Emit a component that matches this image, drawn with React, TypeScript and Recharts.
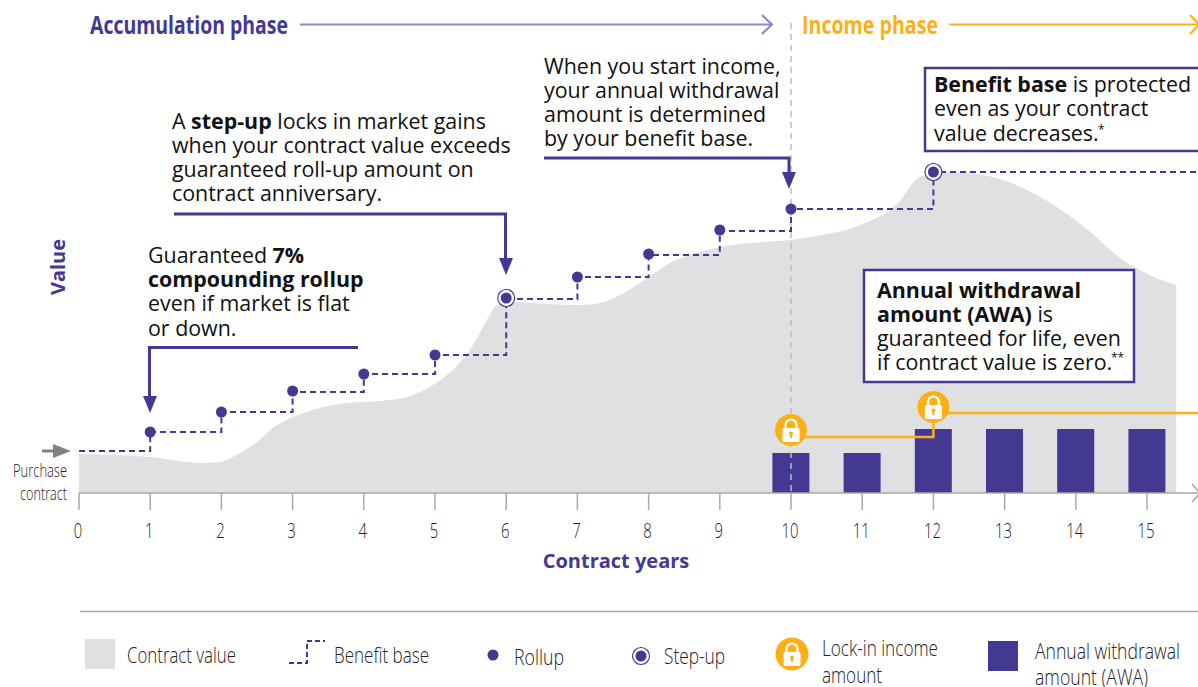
import React from "react";
import {
  ComposedChart,
  Area,
  Bar,
  Line,
  XAxis,
  YAxis,
  ReferenceLine,
} from "recharts";

const PURPLE = "#433993";
const GOLD = "#FDB016";
const GREY = "#DFE0E2";
const AXIS = "#A7A9AC";
const INK = "#111111";
const SANS = "'Open Sans', sans-serif";

const X_END = 15.716;
const yearTicks = [0, 1, 2, 3, 4, 5, 6, 7, 8, 9, 10, 11, 12, 13, 14, 15];

const contractYears = [
  0, 1, 1.7, 1.98, 2.26, 2.5, 2.72, 3.01, 3.38, 3.76, 4.23, 4.61, 4.97, 5.25,
  5.49, 5.73, 5.87, 6.1, 6.57, 7.04, 7.32, 7.6, 7.98, 8.3, 8.58, 9, 9.61, 10,
  10.27, 10.97, 11.49, 11.81, 12.16, 12.7, 13.4, 14.17, 14.62, 15.04, 15.41,
];
const contractValues = [
  39, 36, 30, 31, 40, 51, 65, 76, 85, 90, 92, 96, 108, 123,
  143, 173, 188, 191, 189, 188, 190, 198, 215, 230, 238, 246, 251, 253,
  256, 268, 289, 316, 321, 318, 300, 263, 235, 218, 208,
];

const baseYears = [0, 1, 2, 3, 4, 5, 6, 7, 8, 9, 10, 12, X_END];
const baseValues = [42, 61, 81, 101, 119, 138, 194, 216, 238, 262, 284, 321, 321];

const rollupYears = [1, 2, 3, 4, 5, 7, 8, 9, 10];
const rollupValues = [61, 81, 102, 119, 138, 216, 239, 263, 284];

const stepUpYears = [6, 12];
const stepUpValues = [195, 321];

const awaYears = [10, 11, 12, 13, 14, 15];
const awaValues = [40, 40, 64, 64, 64, 64];

const lockLineYears = [10, 12, X_END];
const lockLineValues = [56, 80, 80];

const lockYears = [10, 12];
const lockValues = [63, 86];

const legendLabels = ["Contract value", "Benefit base", "Rollup", "Step-up"];

const toRows = (years: number[], values: number[]) =>
  years.map((year, i) => ({ year, value: values[i] }));

// no condensed face is installed, so squeeze Open Sans to the measured width
function Narrow(props: {
  x: number;
  y: number;
  w: number;
  size?: number;
  bold?: boolean;
  fill?: string;
  anchor?: "start" | "middle" | "end";
  children: string;
}) {
  const { x, y, w, size = 22, bold, fill = "#222", anchor = "start", children } = props;
  return (
    <text
      x={x}
      y={y}
      fontFamily={SANS}
      fontSize={size}
      fontWeight={bold ? 700 : 300}
      fill={fill}
      textAnchor={anchor}
      textLength={w}
      lengthAdjust="spacingAndGlyphs"
    >
      {children}
    </text>
  );
}

function LockIcon({ cx, cy, r = 16 }: { cx: number; cy: number; r?: number }) {
  return (
    <g>
      <circle cx={cx} cy={cy} r={r} fill={GOLD} />
      <path
        d={`M${cx - 5.5} ${cy - 1} v-4 a5.5 5.5 0 0 1 11 0 v4`}
        fill="none"
        stroke="#fff"
        strokeWidth={2.2}
      />
      <rect x={cx - 8.5} y={cy - 2} width={17} height={14} rx={1.5} fill="#fff" />
      <circle cx={cx} cy={cy + 3.5} r={2} fill={GOLD} />
      <rect x={cx - 1} y={cy + 3.5} width={2} height={4.5} fill={GOLD} />
    </g>
  );
}

function StepUpIcon({ cx, cy }: { cx: number; cy: number }) {
  return (
    <g>
      <circle cx={cx} cy={cy} r={8.5} fill="#fff" stroke={PURPLE} strokeWidth={1.2} />
      <circle cx={cx} cy={cy} r={5.5} fill={PURPLE} />
    </g>
  );
}

const rollupDot = (p: any) => <circle key={p.index} cx={p.cx} cy={p.cy} r={5.5} fill={PURPLE} />;
const stepUpDot = (p: any) => <StepUpIcon key={p.index} cx={p.cx} cy={p.cy} />;
const lockDot = (p: any) => <LockIcon key={p.index} cx={p.cx} cy={p.cy} />;

const YearTick = (p: any) => (
  <Narrow x={p.x - 1} y={p.y + 26} w={p.payload.value > 9 ? 17 : 8.5} size={21} anchor="middle">
    {String(p.payload.value)}
  </Narrow>
);

function Copy(props: { x: number; y: number; lead?: number; lines: (string | [string, string, string?])[] }) {
  const lead = props.lead || 24;
  return (
    <text x={props.x} y={props.y} fontFamily={SANS} fontSize={21.4} fill={INK}>
      {props.lines.map((line, i) => (
        <tspan key={i} x={props.x} y={props.y + i * lead}>
          {typeof line === "string" ? (
            line
          ) : (
            <>
              {line[0]}
              <tspan fontWeight={700}>{line[1]}</tspan>
              {line[2]}
            </>
          )}
        </tspan>
      ))}
    </text>
  );
}

const Overlay = () => (
  <svg
    width={1198}
    height={687}
    style={{ position: "absolute", left: 0, top: 0, pointerEvents: "none" }}
  >
    {/* phase headers */}
    <Narrow x={90} y={34} w={198} size={25} bold fill={PURPLE}>Accumulation phase</Narrow>
    <path d="M300 24.5H772M762 15l10 9.5-10 9.5" fill="none" stroke="#8F86C4" strokeWidth={2.2} />
    <Narrow x={802} y={34} w={136} size={25} bold fill={GOLD}>Income phase</Narrow>
    <path d="M949 24.5H1198M1190 15l9 9.5-9 9.5" fill="none" stroke={GOLD} strokeWidth={2.2} />

    {/* callouts */}
    <Copy x={172} y={128.5} lines={[["A ", "step-up", " locks in market gains"], "when your contract value exceeds", "guaranteed roll-up amount on", "contract anniversary."]} />
    <path d="M174 214H505.500V262" fill="none" stroke={PURPLE} strokeWidth={3} />
    <path d="M499 258h14l-7 17z" fill={PURPLE} />

    <Copy x={544} y={73.5} lines={["When you start income,", "your annual withdrawal", "amount is determined", "by your benefit base."]} />
    <path d="M544 158H789V174" fill="none" stroke={PURPLE} strokeWidth={3} />
    <path d="M782 172h14l-7 17z" fill={PURPLE} />

    <Copy x={148} y={262.500} lead={24.4} lines={[["Guaranteed ", "7%"], ["", "compounding rollup"], "even if market is flat", "or down."]} />
    <path d="M358 347.500H149.500V398" fill="none" stroke={PURPLE} strokeWidth={3} />
    <path d="M143 396h14l-7 17z" fill={PURPLE} />

    <rect x={925} y={68} width={300} height={83} fill="#fff" stroke={PURPLE} strokeWidth={2.5} />
    <Copy x={934} y={92} lead={24.4} lines={[["", "Benefit base", " is protected"], "even as your contract", "value decreases."]} />
    <text x={1098} y={134} fontFamily={SANS} fontSize={12} fill={INK}>*</text>

    <rect x={864} y={270} width={270} height={112} fill="#fff" stroke={PURPLE} strokeWidth={2.5} />
    <Copy x={877} y={298} lines={[["", "Annual withdrawal"], ["", "amount (AWA)", " is"], "guaranteed for life, even", "if contract value is zero."]} />
    <text x={1111} y={362} fontFamily={SANS} fontSize={12} fill={INK}>**</text>

    {/* axis furniture */}
    <path d="M42 451H58" stroke="#808285" strokeWidth={3} />
    <path d="M53 444l18 7-18 7z" fill="#808285" />
    <Narrow x={67} y={477} w={54} size={18} anchor="end">Purchase</Narrow>
    <Narrow x={67} y={500} w={47} size={18} anchor="end">contract</Narrow>
    <path d="M1192 484l8 9-8 9" fill="none" stroke={AXIS} strokeWidth={1.5} />
    <text
      transform="translate(65 267) rotate(-90)"
      textAnchor="middle"
      fontFamily={SANS}
      fontSize={20}
      fontWeight={700}
      fill={PURPLE}
    >
      Value
    </text>
    <text x={616} y={568} textAnchor="middle" fontFamily={SANS} fontSize={20} fontWeight={700} fill={PURPLE}>
      Contract years
    </text>

    {/* legend */}
    <path d="M80 611.500H1198" stroke={AXIS} strokeWidth={1.5} />
    <rect x={85} y={639} width={30} height={30} fill={GREY} />
    <Narrow x={127} y={663} w={109}>{legendLabels[0]}</Narrow>
    <path d="M289 663H307V641H325" fill="none" stroke={PURPLE} strokeWidth={2} strokeDasharray="5 3" />
    <Narrow x={334} y={663} w={95}>{legendLabels[1]}</Narrow>
    <circle cx={493} cy={655} r={5.5} fill={PURPLE} />
    <Narrow x={514} y={665} w={50}>{legendLabels[2]}</Narrow>
    <StepUpIcon cx={641} cy={656} />
    <Narrow x={664} y={664} w={61}>{legendLabels[3]}</Narrow>
    <LockIcon cx={792} cy={654} r={16.5} />
    <Narrow x={822} y={656} w={116}>Lock-in income</Narrow>
    <Narrow x={822} y={683} w={60}>amount</Narrow>
    <rect x={988} y={641} width={30} height={30} fill={PURPLE} />
    <Narrow x={1035} y={659} w={145}>Annual withdrawal</Narrow>
    <Narrow x={1035} y={685} w={113}>amount (AWA)</Narrow>
  </svg>
);

export default function App() {
  return (
    <div style={{ position: "absolute", left: 0, top: 0, width: 1198, height: 687, overflow: "hidden" }}>
      {/* Bar only reads chart-level data, so that holds the bars and the rest bring their own rows */}
      <ComposedChart
        width={1198}
        height={560}
        data={toRows(awaYears, awaValues)}
        margin={{ top: 14, right: 0, bottom: 20, left: 79 }}
      >
        <XAxis
          dataKey="year"
          type="number"
          scale="linear"
          domain={[0, X_END]}
          ticks={yearTicks}
          interval={0}
          height={47}
          tickSize={17}
          tick={YearTick}
          stroke={AXIS}
          strokeWidth={1.5}
        />
        <XAxis
          xAxisId="bars"
          dataKey="year"
          type="number"
          scale="linear"
          domain={[0, X_END]}
          ticks={awaYears}
          height={0}
          hide
        />
        <YAxis
          type="number"
          domain={[0, 479]}
          width={0}
          tick={false}
          tickLine={false}
          stroke={AXIS}
          strokeWidth={1.5}
        />
        <Area
          data={toRows(contractYears, contractValues)}
          dataKey="value"
          type="monotone"
          fill={GREY}
          fillOpacity={1}
          stroke="none"
          dot={false}
          activeDot={false}
          isAnimationActive={false}
        />
        <ReferenceLine
          segment={[{ x: 10, y: 470 }, { x: 10, y: 0 }]}
          stroke="#BCBEC0"
          strokeWidth={1.5}
          strokeDasharray="6 5"
        />
        <Line
          data={toRows(lockLineYears, lockLineValues)}
          dataKey="value"
          type="stepAfter"
          stroke={GOLD}
          strokeWidth={2.5}
          dot={false}
          activeDot={false}
          isAnimationActive={false}
        />
        <Bar xAxisId="bars" dataKey="value" barSize={37} fill={PURPLE} isAnimationActive={false} />
        <Line
          data={toRows(baseYears, baseValues)}
          dataKey="value"
          type="stepAfter"
          stroke={PURPLE}
          strokeWidth={2}
          strokeDasharray="6 4"
          dot={false}
          activeDot={false}
          isAnimationActive={false}
        />
        <Line data={toRows(rollupYears, rollupValues)} dataKey="value" stroke="none" dot={rollupDot} activeDot={false} isAnimationActive={false} />
        <Line data={toRows(stepUpYears, stepUpValues)} dataKey="value" stroke="none" dot={stepUpDot} activeDot={false} isAnimationActive={false} />
        <Line data={toRows(lockYears, lockValues)} dataKey="value" stroke="none" dot={lockDot} activeDot={false} isAnimationActive={false} />
      </ComposedChart>
      <Overlay />
    </div>
  );
}
